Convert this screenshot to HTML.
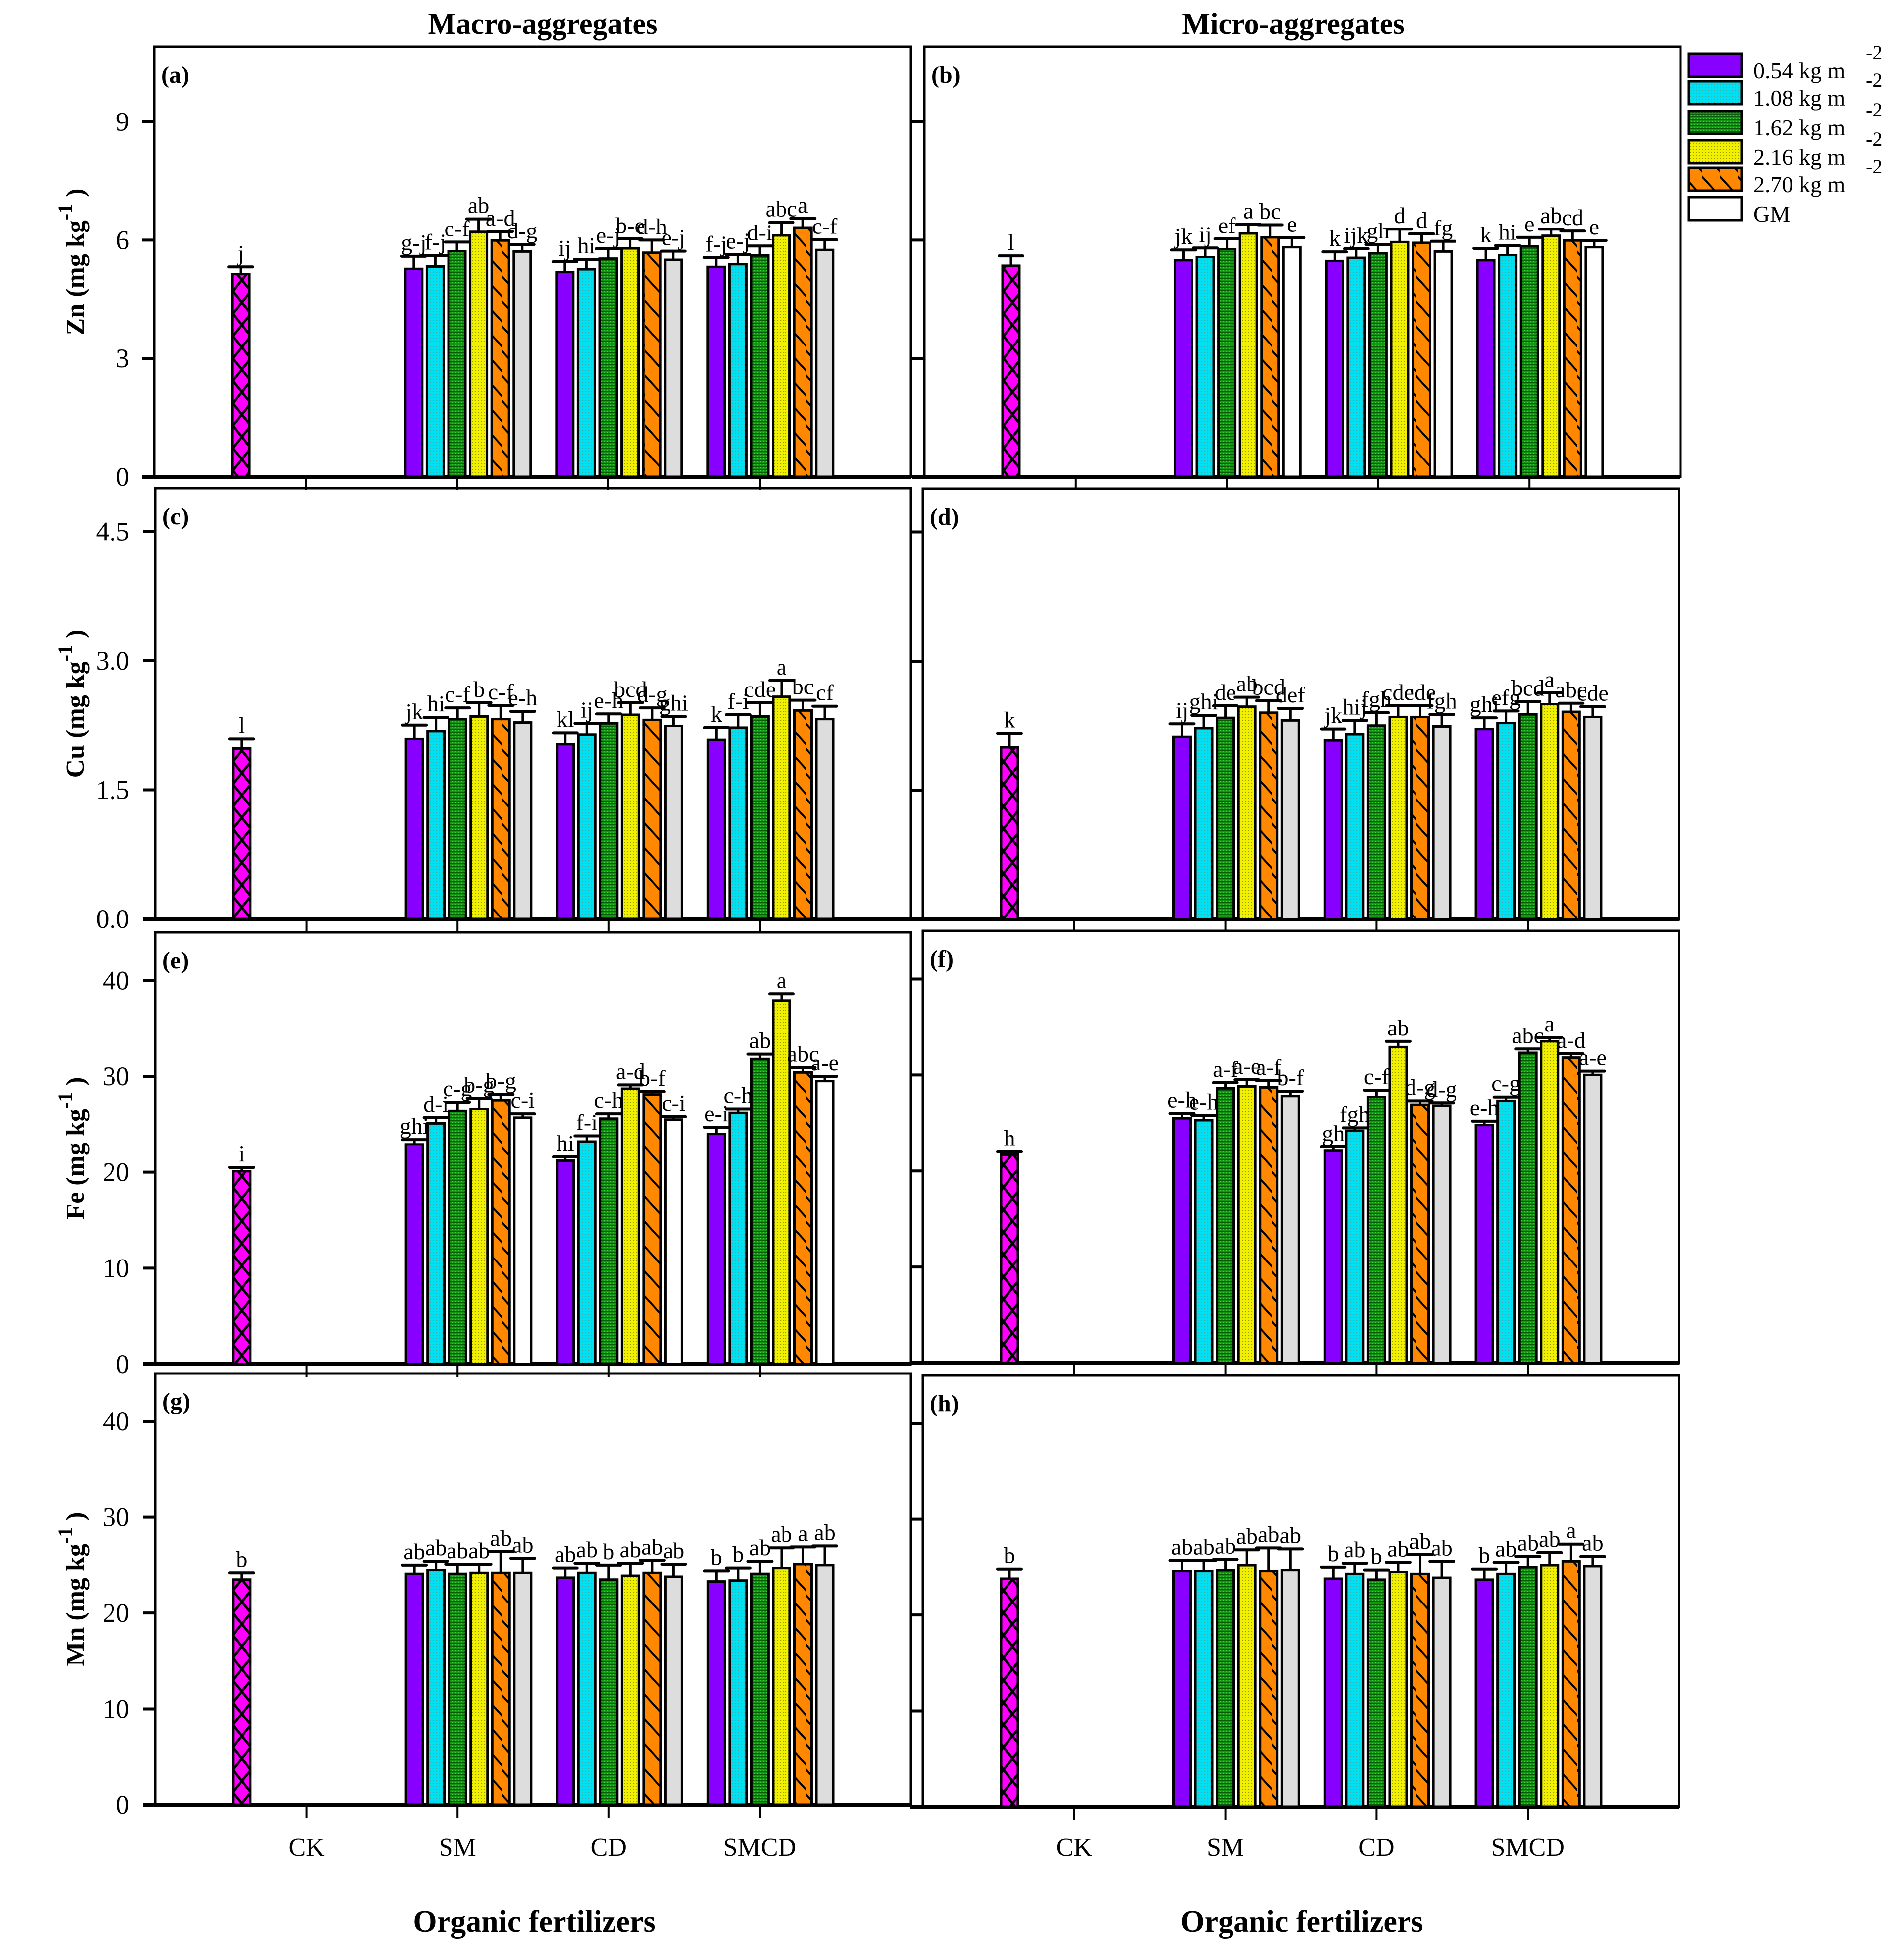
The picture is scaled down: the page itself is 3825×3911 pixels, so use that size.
<!DOCTYPE html>
<html><head><meta charset="utf-8"><style>
html,body{margin:0;padding:0;background:#fff;}
svg{display:block;}
text{font-family:"Liberation Serif",serif;}
</style></head><body>
<svg id="chart" width="3825" height="3911" viewBox="0 0 3825 3911" xmlns="http://www.w3.org/2000/svg">
<defs>
<pattern id="p-ck" patternUnits="userSpaceOnUse" width="36" height="45"><rect width="36" height="45" fill="#ff00ff"/><path d="M0,0 L36,45 M36,0 L0,45" stroke="#000" stroke-width="5"/></pattern>
<pattern id="p-cyan" patternUnits="userSpaceOnUse" width="6" height="6"><rect width="6" height="6" fill="#00e0f0"/><rect x="0" y="0" width="2" height="2" fill="#4aa"/></pattern>
<pattern id="p-green" patternUnits="userSpaceOnUse" width="6" height="6"><rect width="6" height="6" fill="#119911"/><rect x="0" y="0" width="6" height="2" fill="#0a5a0a"/><rect x="2" y="3" width="2" height="2" fill="#44cc44"/></pattern>
<pattern id="p-yellow" patternUnits="userSpaceOnUse" width="6" height="6"><rect width="6" height="6" fill="#f0f000"/><rect x="0" y="0" width="2" height="2" fill="#999900"/></pattern>
<pattern id="p-orange" patternUnits="userSpaceOnUse" width="36" height="50"><rect width="36" height="50" fill="#ff8800"/><path d="M-2,3 L38,47" stroke="#000" stroke-width="4"/></pattern>
</defs>
<g id="root"></g>
</svg>
<script>
const categories = ['CK','SM','CD','SMCD'];
const seriesNames = ['0.54 kg m','1.08 kg m','1.62 kg m','2.16 kg m','2.70 kg m','GM'];
// Zn macro (a)
const aCk = [5.14, 0.18];
const aVals = [[5.27,5.33,5.72,6.21,5.99,5.71],[5.19,5.26,5.53,5.79,5.68,5.50],[5.32,5.39,5.61,6.12,6.32,5.75]];
const aErr = [[0.32,0.28,0.23,0.33,0.23,0.18],[0.26,0.25,0.25,0.24,0.32,0.22],[0.24,0.24,0.24,0.33,0.23,0.26]];
const aLab = ['j',['g-j','f-j','c-f','ab','a-d','d-g'],['ij','hi','e-j','b-e','d-h','e-j'],['f-j','e-j','d-i','abc','a','c-f']];
// Zn micro (b)
const bCk = [5.35, 0.25];
const bVals = [[5.49,5.57,5.77,6.17,6.07,5.82],[5.47,5.55,5.67,5.95,5.93,5.71],[5.49,5.62,5.84,6.11,5.99,5.82]];
const bErr = [[0.26,0.23,0.26,0.23,0.32,0.24],[0.23,0.23,0.22,0.33,0.23,0.26],[0.30,0.24,0.23,0.17,0.24,0.17]];
const bLab = ['l',['jk','ij','ef','a','bc','e'],['k','ijk','gh','d','d','fg'],['k','hi','e','ab','cd','e']];
// Cu macro (c)
const cCk = [1.98, 0.11];
const cVals = [[2.09,2.18,2.32,2.35,2.32,2.28],[2.03,2.14,2.27,2.37,2.31,2.24],[2.08,2.22,2.35,2.58,2.42,2.32]];
const cErr = [[0.16,0.16,0.13,0.16,0.16,0.13],[0.13,0.13,0.11,0.14,0.14,0.11],[0.14,0.15,0.16,0.19,0.12,0.15]];
const cLab = ['l',['jk','hi','c-f','b','c-f','e-h'],['kl','ij','e-h','bcd','d-g','ghi'],['k','f-i','cde','a','bc','cf']];
// Cu micro (d)
const dCk = [2.00, 0.16];
const dVals = [[2.12,2.22,2.34,2.47,2.40,2.31],[2.08,2.15,2.25,2.35,2.35,2.24],[2.21,2.28,2.38,2.50,2.41,2.35]];
const dErr = [[0.15,0.15,0.14,0.11,0.14,0.14],[0.13,0.16,0.15,0.13,0.13,0.14],[0.13,0.14,0.15,0.13,0.10,0.12]];
const dLab = ['k',['ij','ghi','de','ab','bcd','def'],['jk','hij','fgh','cde','cde','fgh'],['ghi','efg','bcd','a','abc','cde']];
// Fe macro (e)
const eCk = [20.1, 0.4];
const eVals = [[22.9,25.1,26.4,26.6,27.5,25.7],[21.2,23.2,25.6,28.7,28.1,25.5],[24.0,26.2,31.8,37.9,30.4,29.5]];
const eErr = [[0.5,0.6,0.9,1.1,0.6,0.4],[0.4,0.6,0.5,0.4,0.3,0.3],[0.7,0.4,0.5,0.7,0.5,0.5]];
const eLab = ['i',['ghi','d-i','c-g','b-g','b-g','c-i'],['hi','f-i','c-h','a-d','b-f','c-i'],['e-i','c-h','ab','a','abc','a-e']];
// Fe micro (f)
const fCk = [21.7, 0.3];
const fVals = [[25.5,25.3,28.6,28.8,28.7,27.8],[22.1,24.2,27.7,32.9,26.9,26.8],[24.8,27.3,32.3,33.5,31.8,30.0]];
const fErr = [[0.5,0.5,0.6,0.7,0.7,0.5],[0.4,0.3,0.7,0.6,0.4,0.3],[0.4,0.4,0.4,0.4,0.4,0.4]];
const fLab = ['h',['e-h','e-h','a-f','a-e','a-f','b-f'],['gh','fgh','c-f','ab','d-g','d-g'],['e-h','c-g','abc','a','a-d','a-e']];
// Mn macro (g)
const gCk = [23.5, 0.7];
const gVals = [[24.1,24.5,24.1,24.2,24.2,24.2],[23.7,24.2,23.5,23.9,24.2,23.8],[23.3,23.4,24.1,24.7,25.1,25.0]];
const gErr = [[0.9,0.9,1.0,0.9,2.2,1.5],[1.0,1.0,1.5,1.3,1.3,1.3],[1.1,1.3,1.3,2.1,1.8,2.0]];
const gLab = ['b',['ab','ab','ab','ab','ab','ab'],['ab','ab','b','ab','ab','ab'],['b','b','ab','ab','a','ab']];
// Mn micro (h)
const hCk = [23.8, 1.0];
const hVals = [[24.6,24.6,24.7,25.2,24.6,24.7],[23.8,24.3,23.7,24.5,24.3,23.9],[23.7,24.3,25.0,25.2,25.6,25.1]];
const hErr = [[1.1,1.1,1.1,1.6,2.4,2.2],[1.2,1.1,1.0,1.0,2.0,1.7],[1.1,1.2,1.1,1.3,1.8,1.0]];
const hLab = ['b',['ab','ab','ab','ab','ab','ab'],['b','ab','b','ab','ab','ab'],['b','ab','ab','ab','a','ab']];
const znTicks = ['0','3','6','9'];
const cuTicks = ['0.0','1.5','3.0','4.5'];
const feTicks = ['0','10','20','30','40'];
const mnTicks = ['0','10','20','30','40'];

const NS='http://www.w3.org/2000/svg';
const root=document.getElementById('root');
function mk(tag,attrs,parent){const e=document.createElementNS(NS,tag);for(const k in attrs)e.setAttribute(k,attrs[k]);(parent||root).appendChild(e);return e;}
const fills=['#8800ff','url(#p-cyan)','url(#p-green)','url(#p-yellow)','url(#p-orange)'];

const panels=[
 {id:'a',L:310,R:1830,T:94,B:958,ymax:10.9,ticks:znTicks,ck:aCk,vals:aVals,err:aErr,lab:aLab,gm:'#dddddd',title:'Zn',left:true},
 {id:'b',L:1857,R:3376,T:94,B:958,ymax:10.9,ticks:znTicks,ck:bCk,vals:bVals,err:bErr,lab:bLab,gm:'#ffffff',left:false},
 {id:'c',L:312,R:1830,T:981,B:1846,ymax:5.0,ticks:cuTicks,ck:cCk,vals:cVals,err:cErr,lab:cLab,gm:'#dddddd',title:'Cu',left:true},
 {id:'d',L:1854,R:3373,T:982,B:1847,ymax:5.0,ticks:cuTicks,ck:dCk,vals:dVals,err:dErr,lab:dLab,gm:'#dddddd',left:false},
 {id:'e',L:312,R:1830,T:1873,B:2740,ymax:45,ticks:feTicks,ck:eCk,vals:eVals,err:eErr,lab:eLab,gm:'#ffffff',title:'Fe',left:true},
 {id:'f',L:1854,R:3373,T:1870,B:2738,ymax:45,ticks:feTicks,ck:fCk,vals:fVals,err:fErr,lab:fLab,gm:'#dddddd',left:false},
 {id:'g',L:312,R:1830,T:2759,B:3625,ymax:45,ticks:mnTicks,ck:gCk,vals:gVals,err:gErr,lab:gLab,gm:'#dddddd',title:'Mn',left:true,bottom:true},
 {id:'h',L:1854,R:3373,T:2763,B:3629,ymax:45,ticks:mnTicks,ck:hCk,vals:hVals,err:hErr,lab:hLab,gm:'#dddddd',left:false,bottom:true}
];

function drawBar(g,p,cx,v,e,fill,lab,y){
  const bw=34;
  const b=mk('rect',{x:cx-bw/2,y:y(v),width:bw,height:p.B-y(v),fill:fill,stroke:'#000','stroke-width':5},g);
  
  
  const et=y(v+e);
  const l=mk('line',{x1:cx,y1:y(v),x2:cx,y2:et,stroke:'#000','stroke-width':5},g);
  
  
  const c=mk('line',{x1:cx-24,y1:et,x2:cx+24,y2:et,stroke:'#000','stroke-width':6,'stroke-linecap':'round'},g);
  
  
  const t=mk('text',{x:cx,y:et-12,'font-size':46,'text-anchor':'middle'},g);
  t.textContent=lab;
  
  
}

panels.forEach(p=>{
  const g=mk('g',{});
  
  
  const W=p.R-p.L;
  const x=v=>p.L+W*v/5;
  const y=v=>p.B-(p.B-p.T)*v/p.ymax;
  const slot=0.1434*W/5;
  const step=parseFloat(p.ticks[1]);
  const fr=mk('rect',{x:p.L,y:p.T,width:W,height:p.B-p.T,fill:'none',stroke:'#000','stroke-width':5},g);
  
  
  p.ticks.forEach((tl,i)=>{
    const yy=y(i*step);
    const tk=mk('line',{x1:p.L-25,y1:yy,x2:p.L,y2:yy,stroke:'#000','stroke-width':6},g);
    
    
    if(p.left){
      const t=mk('text',{x:260,y:yy+18,'font-size':54,'text-anchor':'end'},g);
      t.textContent=tl;
      
      
    }
  });
  const ax=mk('line',{x1:p.L-25,y1:p.B,x2:p.R,y2:p.B,stroke:'#000','stroke-width':8},g);
  
  
  categories.forEach((c,i)=>{
    const tk=mk('line',{x1:x(i+1),y1:p.B,x2:x(i+1),y2:p.B+26,stroke:'#000','stroke-width':4},g);
    
    
    if(p.bottom){
      const t=mk('text',{x:x(i+1),y:3728,'font-size':52,'text-anchor':'middle','font-family':'Liberation Sans, sans-serif'},g);
      t.textContent=c;
      
      
    }
  });
  const pl=mk('text',{x:p.L+14,y:p.T+72,'font-size':48,'font-weight':'bold'},g);
  pl.textContent='('+p.id+')';
  
  
  drawBar(g,p,x(1)-2.98*slot,p.ck[0],p.ck[1],'url(#p-ck)',p.lab[0],y);
  p.vals.forEach((row,gi)=>{
    row.forEach((v,k)=>{
      const fill=k<5?fills[k]:p.gm;
      drawBar(g,p,x(gi+2)+(k-2)*slot,v,p.err[gi][k],fill,p.lab[gi+1][k],y);
    });
  });
  if(p.title){
    const cy=(p.T+p.B)/2;
    const t=mk('text',{x:0,y:0,'font-size':52,'font-weight':'bold','text-anchor':'middle',transform:'translate(168,'+cy+') rotate(-90)'},g);
    
    
    t.innerHTML=p.title+' (mg kg<tspan dy="-24" font-size="40">-1</tspan><tspan dy="24"> )</tspan>';
  }
});

[['Macro-aggregates',1090,'macro-title'],['Micro-aggregates',2598,'micro-title']].forEach(a=>{
  const t=mk('text',{x:a[1],y:68,'font-size':60,'font-weight':'bold','text-anchor':'middle'});
  t.textContent=a[0];
  
  
});
[1073,2615].forEach(xx=>{
  const t=mk('text',{x:xx,y:3880,'font-size':62,'font-weight':'bold','text-anchor':'middle'});
  t.textContent='Organic fertilizers';
  
  
});
const legFills=fills.concat(['#ffffff']);
const legRows=[131,186,246,305,360,419];
seriesNames.forEach((s,i)=>{
  const cy=legRows[i];
  const r=mk('rect',{x:3393,y:cy-23,width:106,height:46,fill:legFills[i],stroke:'#000','stroke-width':5});
  
  
  const t=mk('text',{x:3522,y:cy+26,'font-size':46});
  t.textContent=s;
  
  
  if(i<5){
    const sp=mk('text',{x:3748,y:cy-12,'font-size':40});
    sp.textContent='-2';
    
    
  }
});
</script>
</body></html>
